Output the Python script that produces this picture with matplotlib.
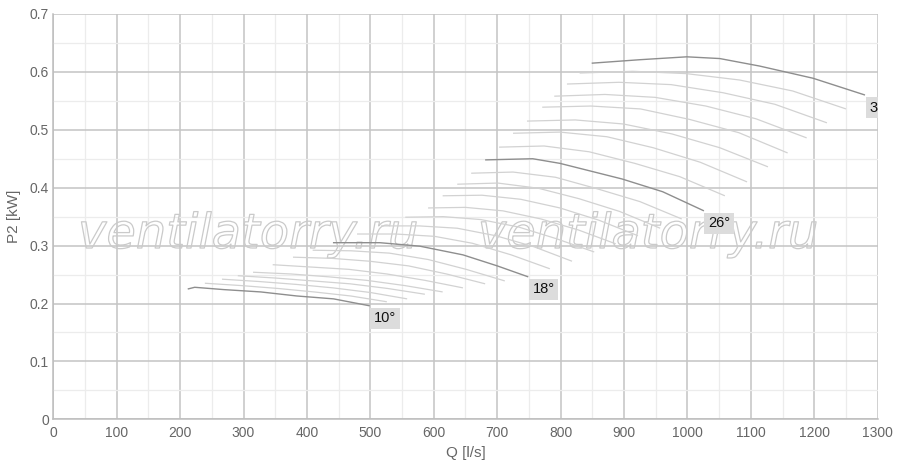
import matplotlib
matplotlib.use("Agg")
from matplotlib import pyplot as plt
from matplotlib import patheffects
from matplotlib.ticker import MultipleLocator

# Fan power curves P2 vs airflow Q for blade angles 10..34 degrees.
# Every angle has its own curve, only 10, 18, 26 and 34 are labelled and drawn darker.
angles = list(range(10, 35))
labelledAngles = [10, 18, 26, 34]

q_curves = [
    [212, 223, 269, 327, 384, 442, 499],
    [239, 296, 354, 411, 469, 526],
    [266, 324, 383, 441, 500, 558],
    [291, 350, 409, 468, 527, 586],
    [315, 375, 435, 494, 554, 614],
    [346, 406, 466, 526, 586, 646],
    [378, 439, 499, 560, 620, 681],
    [409, 470, 530, 591, 651, 712],
    [441, 515, 578, 646, 700, 749],
    [479, 540, 601, 661, 722, 783],
    [517, 577, 637, 698, 758, 818],
    [555, 615, 674, 734, 793, 853],
    [591, 650, 709, 769, 828, 887],
    [614, 676, 737, 799, 860, 922],
    [637, 701, 765, 829, 893, 957],
    [659, 725, 792, 858, 925, 991],
    [681, 756, 799, 897, 961, 1026],
    [703, 774, 845, 917, 988, 1059],
    [725, 799, 873, 946, 1020, 1094],
    [747, 823, 899, 975, 1051, 1127],
    [771, 848, 926, 1003, 1081, 1158],
    [790, 870, 949, 1029, 1108, 1188],
    [810, 892, 974, 1056, 1138, 1220],
    [830, 914, 998, 1082, 1166, 1250],
    [849, 925, 999, 1051, 1114, 1198, 1280],
]

p_curves = [
    [0.225, 0.228, 0.224, 0.220, 0.213, 0.208, 0.196],
    [0.235, 0.231, 0.226, 0.220, 0.213, 0.203],
    [0.242, 0.238, 0.233, 0.227, 0.219, 0.208],
    [0.248, 0.244, 0.239, 0.234, 0.226, 0.216],
    [0.254, 0.251, 0.246, 0.240, 0.231, 0.220],
    [0.267, 0.263, 0.259, 0.251, 0.240, 0.227],
    [0.280, 0.278, 0.273, 0.265, 0.251, 0.234],
    [0.292, 0.291, 0.287, 0.276, 0.259, 0.239],
    [0.305, 0.305, 0.299, 0.284, 0.265, 0.246],
    [0.320, 0.320, 0.316, 0.304, 0.284, 0.260],
    [0.334, 0.334, 0.330, 0.317, 0.298, 0.273],
    [0.349, 0.350, 0.345, 0.332, 0.312, 0.289],
    [0.365, 0.366, 0.360, 0.346, 0.327, 0.303],
    [0.386, 0.387, 0.380, 0.365, 0.344, 0.317],
    [0.406, 0.408, 0.399, 0.381, 0.359, 0.330],
    [0.425, 0.427, 0.418, 0.398, 0.376, 0.346],
    [0.448, 0.450, 0.442, 0.415, 0.393, 0.360],
    [0.470, 0.472, 0.462, 0.442, 0.419, 0.386],
    [0.494, 0.496, 0.488, 0.469, 0.444, 0.410],
    [0.515, 0.517, 0.510, 0.493, 0.469, 0.436],
    [0.539, 0.541, 0.536, 0.518, 0.495, 0.460],
    [0.558, 0.561, 0.556, 0.541, 0.519, 0.486],
    [0.579, 0.582, 0.578, 0.564, 0.544, 0.512],
    [0.598, 0.601, 0.597, 0.586, 0.567, 0.536],
    [0.615, 0.621, 0.626, 0.623, 0.610, 0.589, 0.560],
]

textColor = '#666666'
plt.rcParams['font.family'] = ['Liberation Sans', 'DejaVu Sans']

figure = plt.figure(figsize=(9.0, 4.67), dpi=100)
axis = figure.add_axes([0.0592, 0.1021, 0.916, 0.868])

# Light curves first, labelled ones on top
for angle, qs, ps in zip(angles, q_curves, p_curves):
    if angle in labelledAngles:
        axis.plot(qs, ps, color='#8e8e8e', linewidth=1.0, zorder=4, solid_capstyle='butt')
        axis.annotate(f'{angle}°', xy=(qs[-1], ps[-1]), xytext=(3, -4), textcoords='offset points',
                      ha='left', va='top', fontsize=10.5, color='#111111', zorder=5,
                      annotation_clip=False, clip_on=True,
                      bbox=dict(boxstyle='square,pad=0.25', fc='#dcdcdc', ec='none'))
    else:
        axis.plot(qs, ps, color='#d2d2d2', linewidth=0.9, zorder=3, solid_capstyle='butt')

# Watermarks (outlined italic text)
for xPos in [0.030, 0.515]:
    axis.text(xPos, 0.4226, 'ventilatorry.ru', transform=axis.transAxes, fontsize=34.5,
              family='DejaVu Sans', style='italic', color=(1, 1, 1, 0), zorder=2,
              ha='left', va='baseline',
              path_effects=[patheffects.withStroke(linewidth=0.9, foreground='#cacaca')])

axis.set_xlim(0, 1300)
axis.set_ylim(0, 0.7)
axis.xaxis.set_major_locator(MultipleLocator(100))
axis.xaxis.set_minor_locator(MultipleLocator(50))
axis.yaxis.set_major_locator(MultipleLocator(0.1))
axis.yaxis.set_minor_locator(MultipleLocator(0.05))
axis.set_yticks([0, 0.1, 0.2, 0.3, 0.4, 0.5, 0.6, 0.7])
axis.set_yticklabels(['0', '0.1', '0.2', '0.3', '0.4', '0.5', '0.6', '0.7'])
axis.grid(which='major', color='#c4c4c4', linewidth=1.1, zorder=0)
axis.grid(which='minor', color='#ececec', linewidth=0.9, zorder=0)
axis.set_axisbelow(True)
axis.tick_params(which='both', length=0, labelsize=10, labelcolor=textColor)
axis.tick_params(axis='x', pad=5)
axis.tick_params(axis='y', pad=3)

for side in ['top', 'right']:
    axis.spines[side].set_visible(False)
for side in ['left', 'bottom']:
    axis.spines[side].set_color('#bdbdbd')
    axis.spines[side].set_linewidth(1.1)

axis.set_xlabel('Q [l/s]', fontsize=11, color=textColor, labelpad=4)
axis.set_ylabel('P2 [kW]', fontsize=11, color=textColor, labelpad=6)

figure.savefig('out.png', dpi=100)
